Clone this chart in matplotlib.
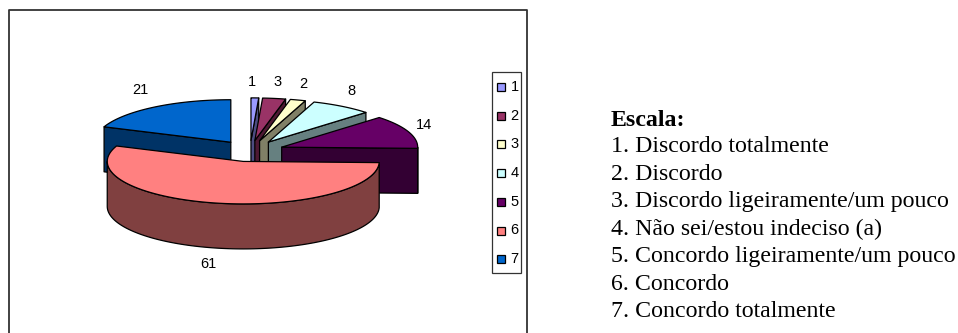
import numpy as np
import matplotlib
matplotlib.use('Agg')
import matplotlib.pyplot as plt

# answers per point of the agreement scale
categories = ['1', '2', '3', '4', '5', '6', '7']
values = [1, 3, 2, 8, 14, 61, 21]
colors = ['#9999FF', '#993366', '#FFFFCC', '#CCFFFF', '#660066', '#FF8080', '#0066CC']
dark_colors = ['#4C4C80', '#4D1933', '#808066', '#668080', '#330033', '#804040', '#003366']

scale_title = 'Escala:'
scale_lines = ['1. Discordo totalmente', '2. Discordo', '3. Discordo ligeiramente/um pouco',
               '4. Não sei/estou indeciso (a)', '5. Concordo ligeiramente/um pouco',
               '6. Concordo', '7. Concordo totalmente']

# pie geometry, in pixels
cx, cy = 250, 151
rx, ry = 136, 42.5
depth = 45
explode = 0.25

# nudges of the value labels away from the rim of their slice
label_nudge = [(-3, -16), (3, -16), (5, -16), (10, -15), (16, -7), (-8, 61), (-14, -17)]

fig = plt.figure(figsize=(9.58, 3.33), dpi=100)
ax = fig.add_axes([0, 0, 1, 1])
ax.set_xlim(0, 958)
ax.set_ylim(333, 0)
ax.axis('off')

sans = 'Liberation Sans'
serif = 'Liberation Serif'

# chart frame runs off the bottom of the image
ax.plot([9, 9, 527, 527], [340, 10, 10, 340], color='#333333', lw=1.3)


def rim(tip, a):
    # a is clockwise from twelve o'clock, in degrees
    r = np.radians(a)
    return tip[0] + rx * np.sin(r), tip[1] - ry * np.cos(r)


def draw_slice(i, start, stop):
    mid = np.radians((start + stop) / 2)
    tip = (cx + explode * rx * np.sin(mid), cy - explode * ry * np.cos(mid))
    ang = np.linspace(start, stop, 80)
    xs, ys = rim(tip, ang)
    edge = dict(edgecolor='black', lw=0.9, joinstyle='round')

    # flat cut faces that turn towards the viewer
    if np.sin(np.radians(stop)) > 0:
        fx, fy = rim(tip, stop)
        ax.fill([tip[0], fx, fx, tip[0]], [tip[1], fy, fy + depth, tip[1] + depth],
                facecolor=dark_colors[i], **edge)
    if np.sin(np.radians(start)) < 0:
        fx, fy = rim(tip, start)
        ax.fill([tip[0], fx, fx, tip[0]], [tip[1], fy, fy + depth, tip[1] + depth],
                facecolor=dark_colors[i], **edge)

    # outer wall, only the part below the horizontal is seen
    lo, hi = max(start, 90), min(stop, 270)
    if lo < hi:
        wa = np.linspace(lo, hi, 120)
        wx, wy = rim(tip, wa)
        ax.fill(np.r_[wx, wx[::-1]], np.r_[wy, wy[::-1] + depth],
                facecolor=dark_colors[i], **edge)

    ax.fill(np.r_[tip[0], xs], np.r_[tip[1], ys], facecolor=colors[i], **edge)
    return tip, (start + stop) / 2


total = sum(values)
stops = np.cumsum(values) / total * 360
starts = np.r_[0, stops[:-1]]

# back slices first, the big front one last
for i in [6, 0, 1, 2, 3, 4, 5]:
    tip, mid = draw_slice(i, starts[i], stops[i])
    lx, ly = rim(tip, mid)
    ax.text(lx + label_nudge[i][0], ly + label_nudge[i][1], str(values[i]),
            family=sans, fontsize=10.5, ha='center', va='center', color='black')

# legend box
ax.fill([492.5, 521.5, 521.5, 492.5], [72, 72, 272.5, 272.5], facecolor='white',
        edgecolor='#333333', lw=0.9)
for i, name in enumerate(categories):
    y = 87 + i * 28.7
    ax.fill([497.5, 505.5, 505.5, 497.5], [y - 4, y - 4, y + 4, y + 4],
            facecolor=colors[i], edgecolor='black', lw=0.9)
    ax.text(510.5, y, name, family=sans, fontsize=10.5, ha='left', va='center')

# scale description
ax.text(611, 120.5, scale_title, family=serif, fontsize=17.2, weight='bold', va='center', ha='left')
for i, line in enumerate(scale_lines):
    ax.text(611, 146.5 + i * 27.5, line, family=serif, fontsize=17.2, va='center', ha='left')

plt.savefig('out.png', dpi=100)
